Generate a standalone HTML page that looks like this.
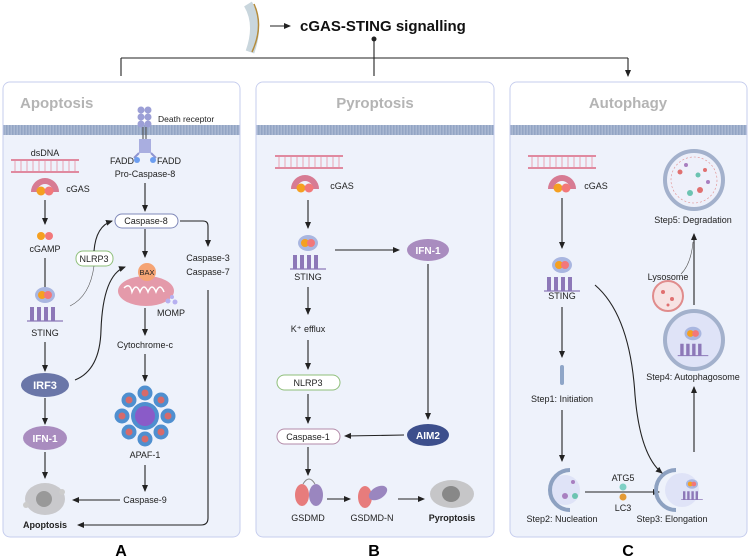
<!DOCTYPE html>
<html><head><meta charset="utf-8"><style>
body{margin:0;background:#fff}
svg{display:block;font-family:"Liberation Sans",Arial,sans-serif}
.t{font-size:9px;fill:#222;text-anchor:middle}
.ln{stroke:#222;stroke-width:1.1;fill:none}
</style></head><body>
<svg width="750" height="559" viewBox="0 0 750 559" xmlns="http://www.w3.org/2000/svg">
<defs>
<marker id="ah" markerWidth="8" markerHeight="8" refX="6" refY="3" orient="auto" markerUnits="userSpaceOnUse"><path d="M0,0 L7,3 L0,6 z" fill="#222"/></marker>
<pattern id="mem" width="3" height="10" patternUnits="userSpaceOnUse"><rect width="3" height="10" fill="#a9b8d2"/><rect width="1.5" height="10" fill="#93a5c4"/></pattern>
<g id="dna"><rect x="0" y="0" width="68" height="2" fill="#e08aa0"/><rect x="0" y="12" width="68" height="2" fill="#e08aa0"/><path d="M4,2v10M10,2v10M16,2v10M22,2v10M28,2v10M34,2v10M40,2v10M46,2v10M52,2v10M58,2v10M64,2v10" stroke="#e9a4b6" stroke-width="1"/></g>
<g id="cgas"><path d="M-14,6 A14,14 0 1 1 14,6 L8,6 A8,8 0 1 0 -8,6 z" fill="#d77b93"/><circle cx="-4" cy="5" r="4.5" fill="#f5a020"/><circle cx="4" cy="5" r="4.5" fill="#f2787a"/></g>
<g id="sting"><ellipse cx="0" cy="-10" rx="10" ry="8" fill="#a9b6e0"/><circle cx="-3" cy="-10" r="4" fill="#f5a020"/><circle cx="3" cy="-10" r="4" fill="#f2787a"/><path d="M-15,2h4v14h-4zM-8,2h4v14h-4zM-1,2h4v14h-4zM6,2h4v14h-4z" fill="#8d78b8"/><path d="M-18,16h36" stroke="#8d78b8" stroke-width="1.2"/></g>
</defs>

<!-- header -->
<path d="M248,4 q12,20 2,48" stroke="#c9d6dd" stroke-width="9" fill="none"/>
<path d="M254,4 q10,22 -2,48" stroke="#b58c3c" stroke-width="1.5" fill="none"/>
<line x1="270" y1="26" x2="290" y2="26" class="ln" marker-end="url(#ah)"/>
<text x="300" y="31" style="font-size:15px;font-weight:bold" fill="#111">cGAS-STING signalling</text>
<circle cx="374" cy="39" r="2.5" fill="#222"/>
<path d="M374,39V58M121,58H628" class="ln"/>
<path d="M121,58V76M374,58V76M628,58V76" class="ln" marker-end="url(#ah)"/>

<!-- panels -->
<g>
<rect x="3" y="82" width="237" height="455" rx="7" fill="#eef2fb" stroke="#c6cdee"/>
<path d="M3.5,125V89a6.5,6.5 0 0 1 6.5,-6.5H233a6.5,6.5 0 0 1 6.5,6.5V125z" fill="#fff"/>
<rect x="3.5" y="125" width="236" height="10" fill="url(#mem)"/>
<rect x="256" y="82" width="238" height="455" rx="7" fill="#eef2fb" stroke="#c6cdee"/>
<path d="M256.5,125V89a6.5,6.5 0 0 1 6.5,-6.5H487a6.5,6.5 0 0 1 6.5,6.5V125z" fill="#fff"/>
<rect x="256.5" y="125" width="237" height="10" fill="url(#mem)"/>
<rect x="510" y="82" width="237" height="455" rx="7" fill="#eef2fb" stroke="#c6cdee"/>
<path d="M510.5,125V89a6.5,6.5 0 0 1 6.5,-6.5H740a6.5,6.5 0 0 1 6.5,6.5V125z" fill="#fff"/>
<rect x="510.5" y="125" width="236" height="10" fill="url(#mem)"/>
</g>
<text x="20" y="108" style="font-size:15px;font-weight:bold" fill="#b4b4b4">Apoptosis</text>
<text x="375" y="108" style="font-size:15px;font-weight:bold;text-anchor:middle" fill="#b4b4b4">Pyroptosis</text>
<text x="628" y="108" style="font-size:15px;font-weight:bold;text-anchor:middle" fill="#b4b4b4">Autophagy</text>
<text x="121" y="556" style="font-size:16px;font-weight:bold;text-anchor:middle">A</text>
<text x="374" y="556" style="font-size:16px;font-weight:bold;text-anchor:middle">B</text>
<text x="628" y="556" style="font-size:16px;font-weight:bold;text-anchor:middle">C</text>

<!-- Panel A -->
<text x="45" y="156" class="t">dsDNA</text>
<use href="#dna" x="11" y="159"/>
<use href="#cgas" x="45" y="186"/>
<text x="78" y="192" class="t">cGAS</text>
<line x1="45" y1="200" x2="45" y2="224" class="ln" marker-end="url(#ah)"/>
<circle cx="41" cy="236" r="4" fill="#f5a020"/><circle cx="49" cy="236" r="4" fill="#f2787a"/>
<text x="45" y="252" class="t">cGAMP</text>
<line x1="45" y1="258" x2="45" y2="292" class="ln"/>
<use href="#sting" x="45" y="305"/>
<text x="45" y="336" class="t">STING</text>
<line x1="45" y1="342" x2="45" y2="371" class="ln" marker-end="url(#ah)"/>
<ellipse cx="45" cy="385" rx="24" ry="12" fill="#6a76a8"/>
<text x="45" y="389" class="t" style="font-size:11px;font-weight:bold;fill:#fff">IRF3</text>
<line x1="45" y1="398" x2="45" y2="424" class="ln" marker-end="url(#ah)"/>
<ellipse cx="45" cy="438" rx="22" ry="12" fill="#a98cbf"/>
<text x="45" y="442" class="t" style="font-size:10px;font-weight:bold;fill:#fff">IFN-1</text>
<line x1="45" y1="452" x2="45" y2="478" class="ln" marker-end="url(#ah)"/>
<ellipse cx="45" cy="499" rx="20" ry="16" fill="#c9c9cc"/><circle cx="44" cy="499" r="8" fill="#999"/><circle cx="62" cy="492" r="3" fill="#ccc"/><circle cx="26" cy="505" r="3" fill="#ccc"/>
<text x="45" y="528" class="t" style="font-weight:bold">Apoptosis</text>
<line x1="120" y1="500" x2="73" y2="500" class="ln" marker-end="url(#ah)"/>
<path d="M208,290V518q0,7 -7,7H78" class="ln" marker-end="url(#ah)"/>

<!-- death receptor -->
<g fill="#9c9fd6"><circle cx="141" cy="110" r="3.5"/><circle cx="148" cy="110" r="3.5"/><circle cx="141" cy="117" r="3.5"/><circle cx="148" cy="117" r="3.5"/><circle cx="141" cy="124" r="3.5"/><circle cx="148" cy="124" r="3.5"/></g>
<path d="M143,127v12M146,127v12" stroke="#444" stroke-width="1"/>
<rect x="139" y="139" width="12" height="14" fill="#a9aee0"/>
<path d="M139,153l-5,5M151,153l5,5" stroke="#8e94d0" stroke-width="2"/>
<circle cx="137" cy="160" r="3" fill="#6d9ef0"/><circle cx="153" cy="160" r="3" fill="#6d9ef0"/>
<text x="158" y="122" style="font-size:8.5px" fill="#222">Death receptor</text>
<text x="122" y="164" class="t">FADD</text><text x="169" y="164" class="t">FADD</text>
<text x="145" y="177" class="t">Pro-Caspase-8</text>
<line x1="145" y1="183" x2="145" y2="211" class="ln" marker-end="url(#ah)"/>
<rect x="115" y="214" width="63" height="14" rx="7" fill="#fff" stroke="#7f88b8"/>
<text x="146" y="224" class="t">Caspase-8</text>
<path d="M180,221H203q5,0 5,5V246" class="ln" marker-end="url(#ah)"/>
<text x="208" y="261" class="t">Caspase-3</text><text x="208" y="275" class="t">Caspase-7</text>
<line x1="145" y1="229" x2="145" y2="257" class="ln" marker-end="url(#ah)"/>
<ellipse cx="146" cy="291" rx="28" ry="15" fill="#e49aaa"/>
<path d="M124,288q6,-6 8,4q4,-10 8,0q4,-10 8,0q4,-10 8,0q4,-10 8,0" stroke="#fff" stroke-width="1.5" fill="none"/>
<circle cx="147" cy="272" r="9" fill="#f5a474"/>
<text x="147" y="275" class="t" style="font-size:7.5px">BAX</text>
<circle cx="168" cy="301" r="2.5" fill="#b6b0f0"/><circle cx="175" cy="302" r="2.5" fill="#b6b0f0"/><circle cx="172" cy="297" r="2" fill="#b6b0f0"/>
<text x="171" y="316" class="t">MOMP</text>
<line x1="145" y1="308" x2="145" y2="335" class="ln" marker-end="url(#ah)"/>
<text x="145" y="348" class="t">Cytochrome-c</text>
<line x1="145" y1="354" x2="145" y2="381" class="ln" marker-end="url(#ah)"/>
<g fill="#4f8fcf">
<circle cx="145" cy="416" r="14"/>
<circle cx="145" cy="393" r="7.5"/><circle cx="145" cy="439" r="7.5"/><circle cx="122" cy="416" r="7.5"/><circle cx="168" cy="416" r="7.5"/>
<circle cx="129" cy="400" r="7.5"/><circle cx="161" cy="400" r="7.5"/><circle cx="129" cy="432" r="7.5"/><circle cx="161" cy="432" r="7.5"/>
</g>
<circle cx="145" cy="416" r="10" fill="#8a5bc8"/>
<g fill="#d76a6a"><circle cx="145" cy="393" r="3.5"/><circle cx="145" cy="439" r="3.5"/><circle cx="122" cy="416" r="3.5"/><circle cx="168" cy="416" r="3.5"/><circle cx="129" cy="400" r="3.5"/><circle cx="161" cy="400" r="3.5"/><circle cx="129" cy="432" r="3.5"/><circle cx="161" cy="432" r="3.5"/></g>
<text x="145" y="458" class="t">APAF-1</text>
<line x1="145" y1="465" x2="145" y2="491" class="ln" marker-end="url(#ah)"/>
<text x="145" y="503" class="t">Caspase-9</text>
<rect x="76" y="251" width="37" height="15" rx="7" fill="#fff" stroke="#8fbf7a"/>
<text x="94" y="262" class="t">NLRP3</text>
<path d="M70,306q20,-10 24,-40" stroke="#555" stroke-width="0.6" fill="none"/>
<path d="M94,251q2,-25 18,-30" class="ln" marker-end="url(#ah)"/>
<path d="M75,380q25,-10 26,-50q2,-55 24,-63" class="ln" marker-end="url(#ah)"/>

<!-- Panel B -->
<use href="#dna" x="275" y="155"/>
<use href="#cgas" x="305" y="183"/>
<text x="342" y="189" class="t">cGAS</text>
<line x1="308" y1="200" x2="308" y2="228" class="ln" marker-end="url(#ah)"/>
<use href="#sting" x="308" y="253"/>
<text x="308" y="280" class="t">STING</text>
<line x1="335" y1="250" x2="399" y2="250" class="ln" marker-end="url(#ah)"/>
<ellipse cx="428" cy="250" rx="21" ry="11" fill="#a98cbf"/>
<text x="428" y="254" class="t" style="font-size:10px;font-weight:bold;fill:#fff">IFN-1</text>
<line x1="428" y1="264" x2="428" y2="419" class="ln" marker-end="url(#ah)"/>
<ellipse cx="428" cy="435" rx="21" ry="11" fill="#3d4f8c"/>
<text x="428" y="439" class="t" style="font-size:10px;font-weight:bold;fill:#fff">AIM2</text>
<line x1="404" y1="435" x2="345" y2="436" class="ln" marker-end="url(#ah)"/>
<line x1="308" y1="287" x2="308" y2="314" class="ln" marker-end="url(#ah)"/>
<text x="308" y="332" class="t">K⁺ efflux</text>
<line x1="308" y1="340" x2="308" y2="369" class="ln" marker-end="url(#ah)"/>
<rect x="277" y="375" width="63" height="15" rx="7.5" fill="#fff" stroke="#8fbf7a"/>
<text x="308" y="386" class="t">NLRP3</text>
<line x1="308" y1="394" x2="308" y2="423" class="ln" marker-end="url(#ah)"/>
<rect x="277" y="429" width="63" height="15" rx="7.5" fill="#fff" stroke="#b38aa8"/>
<text x="308" y="440" class="t">Caspase-1</text>
<line x1="308" y1="447" x2="308" y2="475" class="ln" marker-end="url(#ah)"/>
<ellipse cx="302" cy="495" rx="7" ry="11" fill="#e77c7c"/><ellipse cx="316" cy="495" rx="7" ry="11" fill="#9a86bf"/>
<path d="M303,484q6,-10 12,0" stroke="#888" fill="none"/>
<text x="308" y="521" class="t">GSDMD</text>
<line x1="327" y1="499" x2="350" y2="499" class="ln" marker-end="url(#ah)"/>
<ellipse cx="365" cy="497" rx="7" ry="11" fill="#e77c7c"/><ellipse cx="378" cy="493" rx="10" ry="6" transform="rotate(-30 378 493)" fill="#9a86bf"/>
<text x="372" y="521" class="t">GSDMD-N</text>
<line x1="398" y1="499" x2="424" y2="499" class="ln" marker-end="url(#ah)"/>
<ellipse cx="452" cy="494" rx="22" ry="14" fill="#c6c6c8"/><ellipse cx="451" cy="494" rx="9" ry="8" fill="#888"/>
<text x="452" y="521" class="t" style="font-weight:bold">Pyroptosis</text>

<!-- Panel C -->
<use href="#dna" x="528" y="155"/>
<use href="#cgas" x="562" y="183"/>
<text x="596" y="189" class="t">cGAS</text>
<line x1="562" y1="198" x2="562" y2="248" class="ln" marker-end="url(#ah)"/>
<use href="#sting" x="562" y="275"/>
<text x="562" y="299" class="t">STING</text>
<line x1="562" y1="307" x2="562" y2="357" class="ln" marker-end="url(#ah)"/>
<rect x="560" y="365" width="4" height="20" rx="2" fill="#8fa6c8"/>
<text x="562" y="402" class="t">Step1: Initiation</text>
<line x1="562" y1="410" x2="562" y2="461" class="ln" marker-end="url(#ah)"/>
<circle cx="565" cy="490" r="15" fill="#dfe3f7"/>
<path d="M570,470a20,20 0 1 0 0,40" stroke="#8da1c1" stroke-width="4" fill="none"/>
<circle cx="565" cy="496" r="3" fill="#a87fc0"/><circle cx="575" cy="496" r="3" fill="#6cc3b1"/><circle cx="573" cy="482" r="2" fill="#a87fc0"/>
<text x="562" y="522" class="t">Step2: Nucleation</text>
<line x1="585" y1="492" x2="659" y2="492" class="ln" marker-end="url(#ah)"/>
<text x="623" y="481" class="t">ATG5</text>
<circle cx="623" cy="487" r="3.5" fill="#7fd0c6"/><circle cx="623" cy="497" r="3.5" fill="#e39a35"/>
<text x="623" y="511" class="t">LC3</text>
<circle cx="682" cy="490" r="17" fill="#dfe3f7"/>
<path d="M676,470a20,20 0 1 0 0,40" stroke="#8da1c1" stroke-width="4" fill="none"/>
<use href="#sting" x="692" y="490" transform="translate(692 490) scale(0.6) translate(-692 -490)"/>
<text x="672" y="522" class="t">Step3: Elongation</text>
<path d="M595,285q35,30 40,110q5,60 27,78" class="ln" marker-end="url(#ah)"/>
<line x1="694" y1="452" x2="694" y2="387" class="ln" marker-end="url(#ah)"/>
<circle cx="694" cy="340" r="29" fill="#dfe3f7" stroke="#a3b1cc" stroke-width="4"/>
<use href="#sting" x="693" y="342" transform="translate(693 342) scale(0.85) translate(-693 -342)"/>
<text x="693" y="380" class="t">Step4: Autophagosome</text>
<circle cx="668" cy="296" r="15" fill="#f7e3e3" stroke="#e08c8c" stroke-width="2"/>
<circle cx="663" cy="292" r="2" fill="#e07070"/><circle cx="672" cy="299" r="2" fill="#e07070"/><circle cx="668" cy="305" r="1.5" fill="#e07070"/>
<text x="668" y="280" class="t">Lysosome</text>
<line x1="694" y1="305" x2="694" y2="234" class="ln" marker-end="url(#ah)"/>
<path d="M681,274q10,-10 12,-32" stroke="#555" stroke-width="0.6" fill="none"/>
<circle cx="694" cy="180" r="29" fill="#eef0fa" stroke="#a3b1cc" stroke-width="4"/>
<circle cx="694" cy="180" r="23" fill="none" stroke="#e08c8c" stroke-width="0.6" stroke-dasharray="2 2"/>
<g fill="#e07070"><circle cx="680" cy="172" r="2.5"/><circle cx="700" cy="190" r="3"/><circle cx="705" cy="170" r="2"/></g>
<g fill="#6cc3b1"><circle cx="690" cy="193" r="3"/><circle cx="698" cy="175" r="2.5"/></g>
<g fill="#a87fc0"><circle cx="686" cy="165" r="2"/><circle cx="708" cy="182" r="2"/></g>
<text x="693" y="223" class="t">Step5: Degradation</text>
</svg>
</body></html>
